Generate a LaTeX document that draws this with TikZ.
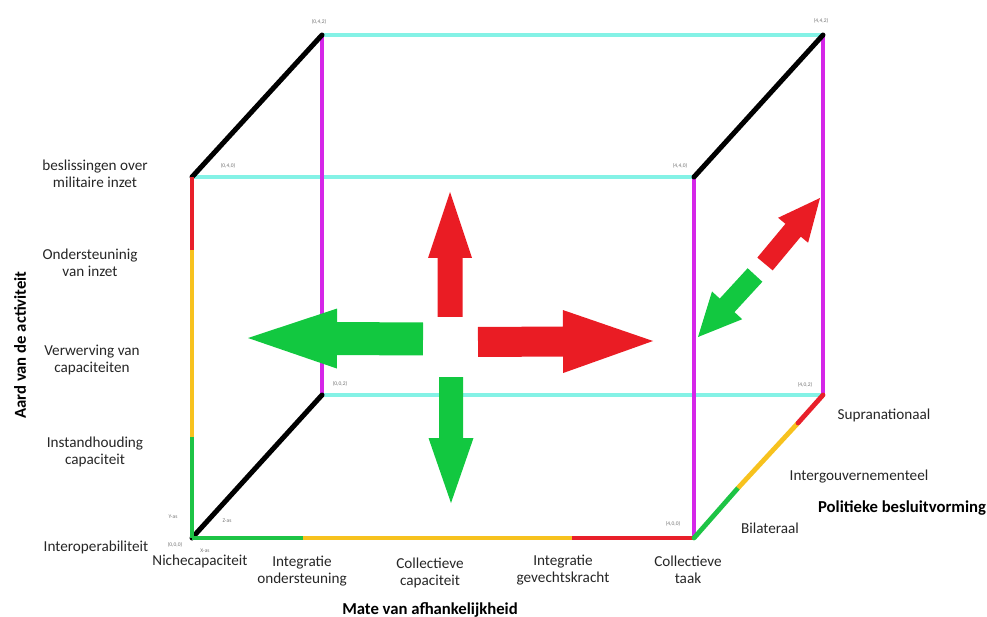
\documentclass[tikz,border=0pt]{standalone}
\usepackage{fontspec}
\setmainfont{Carlito}
\usetikzlibrary{calc}
\definecolor{cyanl}{HTML}{84F2E6}
\definecolor{mag}{HTML}{D526E8}
\definecolor{redl}{HTML}{E8202A}
\definecolor{yel}{HTML}{F7C21E}
\definecolor{grn}{HTML}{1DC445}
\definecolor{arrred}{HTML}{EA1C24}
\definecolor{arrgrn}{HTML}{12C840}
\newcommand\fatarrow[6]{%
  \coordinate (#2-h) at ($(#3)!#6!(#2)$);
  \fill[#1] ($(#2)!#4!90:(#3)$) -- ($(#2-h)!#4!90:(#3)$) -- ($(#2-h)!#5!90:(#3)$) -- (#3)
    -- ($(#2-h)!#5!-90:(#3)$) -- ($(#2-h)!#4!-90:(#3)$) -- ($(#2)!#4!-90:(#3)$) -- cycle;}
\begin{document}
\begin{tikzpicture}[x=1pt,y=-1pt,
  edge/.style={line width=4.8pt},
  blk/.style={line width=5pt,black,line cap=round},
  corner/.style={font=\fontsize{5.5}{6.5}\selectfont,text=black!55},
  lab/.style={font=\fontsize{15.2}{17.5}\selectfont,align=center,text=black!85},
  title/.style={font=\fontsize{16.7}{19}\selectfont\bfseries,text=black}]
\useasboundingbox (0,0) rectangle (987,617);
% corners
\coordinate (A) at (192,538); % (0,0,0)
\coordinate (B) at (694,538); % (4,0,0)
\coordinate (C) at (694,177); % (4,4,0)
\coordinate (D) at (192,177); % (0,4,0)
\coordinate (E) at (322,395); % (0,0,2)
\coordinate (F) at (823,395); % (4,0,2)
\coordinate (G) at (823,35);  % (4,4,2)
\coordinate (H) at (322,35);  % (0,4,2)
% edge split points
\coordinate (L1) at (192,437);
\coordinate (L2) at (192,250);
\coordinate (X1) at (303,538);
\coordinate (X2) at (572,538);
\coordinate (Z1) at (738,488);
\coordinate (Z2) at (798,423);
% cyan edges
\draw[edge,cyanl] (H) -- (G);
\draw[edge,cyanl] (D) -- (C);
\draw[edge,cyanl] (E) -- (F);
% magenta edges
\draw[edge,mag] (H) -- (E);
\draw[edge,mag] (G) -- (F);
\draw[edge,mag] (C) -- (B);
% black depth edges
\draw[blk] (D) -- (H);
\draw[blk] (C) -- (G);
\draw[blk] (A) -- (E);
% coloured axes
\draw[edge,grn] (A) -- (L1);
\draw[edge,yel] (L1) -- (L2);
\draw[edge,redl] (L2) -- (D);
\draw[edge,grn] (A) -- (X1);
\draw[edge,yel] (X1) -- (X2);
\draw[edge,redl] (X2) -- (B);
\draw[edge,grn,line cap=round] (B) -- (Z1);
\draw[edge,yel] (Z1) -- (Z2);
\draw[edge,redl,line cap=round] (Z2) -- (F);
% fat arrows
\coordinate (upT) at (450,317); \coordinate (upH) at (450,192);
\coordinate (lfT) at (423,339); \coordinate (lfH) at (248,338);
\coordinate (rtT) at (478,342); \coordinate (rtH) at (653,341);
\coordinate (dnT) at (451,377); \coordinate (dnH) at (451,503);
\coordinate (drT) at (765,264); \coordinate (drH) at (820,198);
\coordinate (dgT) at (755,275); \coordinate (dgH) at (698,337);
\fatarrow{arrred}{upT}{upH}{12.5pt}{22pt}{66pt}
\fatarrow{arrgrn}{lfT}{lfH}{16.5pt}{30pt}{89pt}
\fatarrow{arrred}{rtT}{rtH}{15pt}{31.5pt}{90pt}
\fatarrow{arrgrn}{dnT}{dnH}{12pt}{22.5pt}{65pt}
\fatarrow{arrred}{drT}{drH}{10pt}{19.5pt}{42pt}
\fatarrow{arrgrn}{dgT}{dgH}{10pt}{20.5pt}{43pt}
% corner labels
\node[corner] (cH) at (319,22) {(0,4,2)};
\node[corner] (cD) at (228,166) {(0,4,0)};
\node[corner] (cG) at (821,21) {(4,4,2)};
\node[corner] (cC) at (680,166) {(4,4,0)};
\node[corner] (cF) at (805,385) {(4,0,2)};
\node[corner] (cB) at (673,524) {(4,0,0)};
\node[corner] (cE) at (340,384) {(0,0,2)};
\node[corner] (cA) at (175,545) {(0,0,0)};
\node[corner] (ya) at (173,517) {Y-as};
\node[corner] (za) at (227,521) {Z-as};
\node[corner] (xa) at (205,551) {X-as};
% y-axis labels
\node[lab] (y5) at (95,174) {beslissingen over\\militaire inzet};
\node[lab] (y4) at (90,263) {Ondersteuninig\\van inzet};
\node[lab] (y3) at (92,360) {Verwerving van\\capaciteiten};
\node[lab] (y2) at (95,452) {Instandhouding\\capaciteit};
\node[lab] (y1) at (96,547) {Interoperabiliteit};
\node[title,rotate=90] (yt) at (20,345) {Aard van de activiteit};
% x-axis labels
\node[lab] (x1) at (200,561) {Nichecapaciteit};
\node[lab] (x2) at (302,571) {Integratie\\ondersteuning};
\node[lab] (x3) at (430,573) {Collectieve\\capaciteit};
\node[lab] (x4) at (563,570) {Integratie\\gevechtskracht};
\node[lab] (x5) at (688,570) {Collectieve\\taak};
\node[title] (xt) at (430,610) {Mate van afhankelijkheid};
% z-axis labels
\node[lab] (z3) at (884,415) {Supranationaal};
\node[lab] (z2) at (859,477) {Intergouvernementeel};
\node[lab] (z1) at (770,528) {Bilateraal};
\node[title] (zt) at (902,508) {Politieke besluitvorming};
\end{tikzpicture}
\end{document}
